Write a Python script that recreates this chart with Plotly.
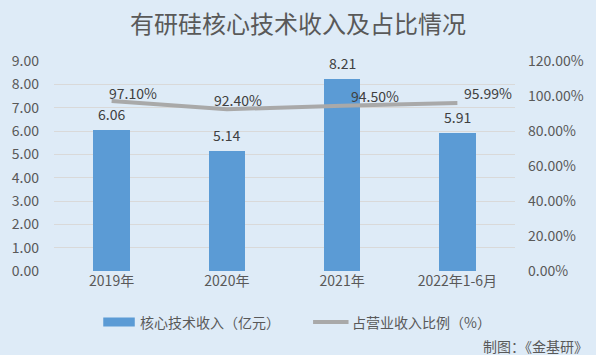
import plotly.graph_objects as go

categories = ["2019年", "2020年", "2021年", "2022年1-6月"]
core_revenue = [6.06, 5.14, 8.21, 5.91]          # 亿元
revenue_share = [0.9710, 0.9240, 0.9450, 0.9599]  # 占营业收入比例
bar_labels = ["6.06", "5.14", "8.21", "5.91"]
share_labels = ["97.10%", "92.40%", "94.50%", "95.99%"]
left_ticks = [0, 1, 2, 3, 4, 5, 6, 7, 8, 9]
right_ticks = [0, 0.2, 0.4, 0.6, 0.8, 1.0, 1.2]

title_text = "有研硅核心技术收入及占比情况"
bar_name = "核心技术收入（亿元）"
line_name = "占营业收入比例（%）"
note_text = "制图：《金基研》"

FONT = "Noto Sans CJK SC, Microsoft YaHei, sans-serif"
BG = "#DEEBF7"
BAR_COLOR = "#5B9BD5"
LINE_COLOR = "#A9A9A9"
AXIS_TXT = "#595959"
LABEL_TXT = "#404040"

fig = go.Figure()
fig.add_trace(go.Bar(
    x=categories, y=core_revenue, name=bar_name,
    marker=dict(color=BAR_COLOR, line=dict(width=0)),
    width=0.316, yaxis="y", showlegend=False, hoverinfo="x+y",
))
fig.add_trace(go.Scatter(
    x=categories, y=revenue_share, name=line_name, mode="lines",
    line=dict(color=LINE_COLOR, width=4), yaxis="y2", showlegend=False,
))

annotations = []
for c, v, t in zip(categories, core_revenue, bar_labels):
    annotations.append(dict(x=c, y=v, xref="x", yref="y", text=t, showarrow=False,
                            yanchor="middle", yshift=16,
                            font=dict(size=14, color=LABEL_TXT, family=FONT)))
share_shifts = [(21, 8), (11, 9), (33, 10), (31, 10)]
for c, v, t, (dx, dy) in zip(categories, revenue_share, share_labels, share_shifts):
    annotations.append(dict(x=c, y=v, xref="x", yref="y2", text=t, showarrow=False,
                            yanchor="middle", xshift=dx, yshift=dy,
                            font=dict(size=14, color=LABEL_TXT, family=FONT)))

W, H = 596, 355
L, R, T, B = 53, 75, 61, 84

def px_x(p):
    return (p - L) / (W - L - R)

def px_y(p):
    return (H - B - p) / (H - T - B)

# custom legend and note (pixel positions converted to paper coords)
annotations.append(dict(x=px_x(138), y=px_y(322), xref="paper", yref="paper", text=bar_name,
                        showarrow=False, xanchor="left", yanchor="middle",
                        font=dict(size=14, color=AXIS_TXT, family=FONT)))
annotations.append(dict(x=px_x(354), y=px_y(322), xref="paper", yref="paper", text=line_name,
                        showarrow=False, xanchor="left", yanchor="middle",
                        font=dict(size=14, color=AXIS_TXT, family=FONT)))
annotations.append(dict(x=px_x(486), y=px_y(346), xref="paper", yref="paper", text=note_text,
                        showarrow=False, xanchor="left", yanchor="middle",
                        font=dict(size=14, color=AXIS_TXT, family=FONT)))

shapes = [
    dict(type="rect", xref="paper", yref="paper",
         x0=px_x(103), x1=px_x(135), y0=px_y(326.5), y1=px_y(317.5),
         fillcolor=BAR_COLOR, line=dict(width=0)),
    dict(type="line", xref="paper", yref="paper",
         x0=px_x(316), x1=px_x(352), y0=px_y(322), y1=px_y(322),
         line=dict(color=LINE_COLOR, width=4)),
]

fig.update_layout(
    width=W, height=H,
    margin=dict(l=L, r=R, t=T, b=B, pad=0),
    paper_bgcolor=BG, plot_bgcolor=BG,
    font=dict(family=FONT, color=AXIS_TXT, size=14),
    title=dict(text=title_text, x=0.5, xref="container", xanchor="center",
               y=1 - 25 / H, yref="container", yanchor="middle",
               font=dict(size=24, color=AXIS_TXT, family=FONT)),
    xaxis=dict(type="category", categoryorder="array", categoryarray=categories,
               showgrid=False, zeroline=False, showline=False, ticks="",
               tickfont=dict(size=14, color=AXIS_TXT), range=[-0.5, 3.5]),
    yaxis=dict(range=[0, 9], tickvals=left_ticks, tickformat=".2f",
               showgrid=True, gridcolor="#D9D9D9", gridwidth=1,
               zeroline=False, showline=False, ticks="", ticklabelstandoff=14,
               tickfont=dict(size=14, color=AXIS_TXT)),
    yaxis2=dict(range=[0, 1.2], tickvals=right_ticks, tickformat=".2%",
                overlaying="y", side="right", showgrid=False, zeroline=False,
                showline=False, ticks="", ticklabelstandoff=12,
                tickfont=dict(size=14, color=AXIS_TXT)),
    annotations=annotations,
    shapes=shapes,
    showlegend=False,
    bargap=0,
)

fig.write_html(
    "out.html",
    config={"displayModeBar": False},
    post_script="document.body.style.margin='0';document.body.style.padding='0';",
)
